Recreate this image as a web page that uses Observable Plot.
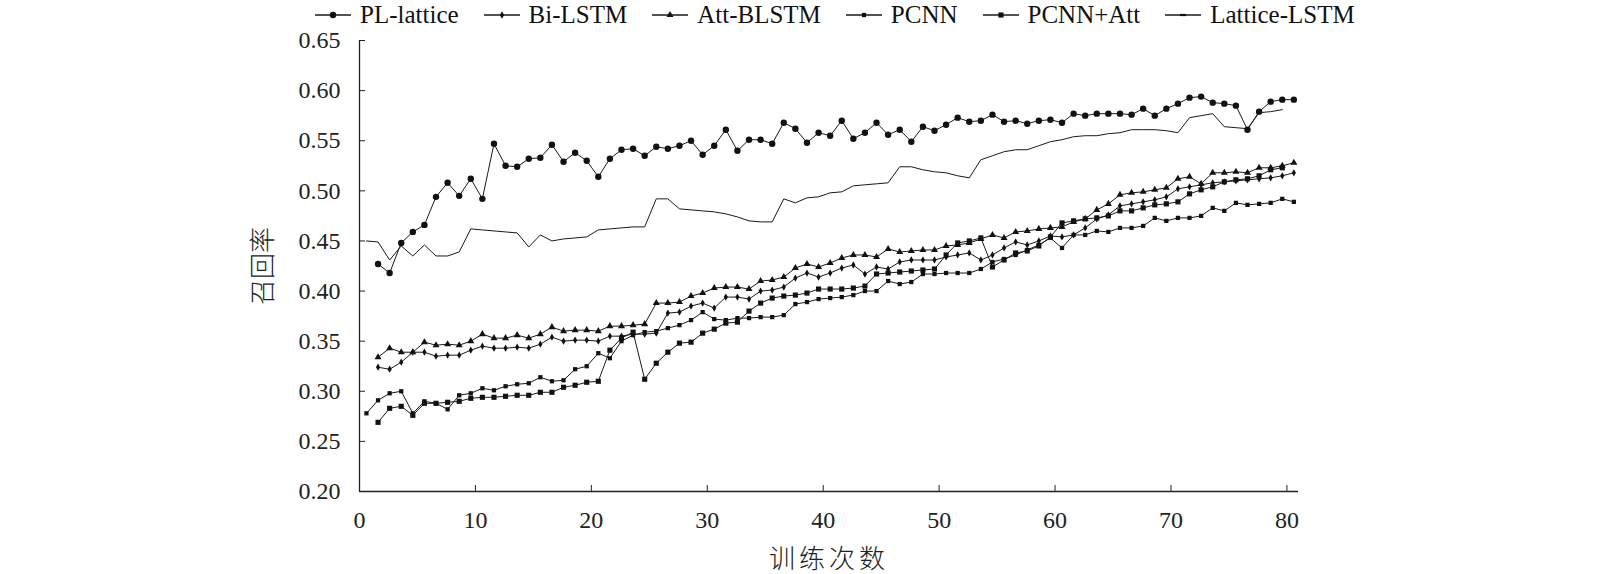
<!DOCTYPE html>
<html>
<head>
<meta charset="utf-8">
<script src="https://cdn.jsdelivr.net/npm/d3@7"></script>
<script src="https://cdn.jsdelivr.net/npm/@observablehq/plot@0.6"></script>
<style>
  html, body { margin: 0; padding: 0; background: #fff; overflow: hidden; }
  body { width: 1600px; height: 574px; font-family: "Liberation Serif", "Times New Roman", Times, "DejaVu Serif", serif; }
  #legend { box-sizing: border-box; height: 26px; padding-top: 4px; display: flex; align-items: center; padding-left: 315px; font-size: 25px; line-height: 22px; color: #111; white-space: nowrap; }
  #legend .item { display: flex; align-items: center; margin-right: 25px; }
  #legend svg { margin-right: 9px; }
  #chart svg { display: block; max-width: none !important; }
  g[aria-label="x-axis label"] text, g[aria-label="y-axis label"] text { font-size: 26px; font-family: "Noto Sans CJK SC", sans-serif; font-weight: 300; }
  g[aria-label="x-axis label"] text { letter-spacing: 4px; }
</style>
</head>
<body>
<div id="legend"></div>
<div id="chart"></div>
<script>
// ---- data (index k = 0..80, null = no point) ----
const epochs = d3.range(0, 81);
const xShift = 0.6; // points sit 0.6 units right of the integer epoch in the original
const xTicks = [0, 10, 20, 30, 40, 50, 60, 70, 80];
const yTicks = [0.20, 0.25, 0.30, 0.35, 0.40, 0.45, 0.50, 0.55, 0.60, 0.65];
const seriesNames = ["PL-lattice", "Bi-LSTM", "Att-BLSTM", "PCNN", "PCNN+Att", "Lattice-LSTM"];

const plLattice = [null,
  0.427, 0.418, 0.448, 0.459, 0.466, 0.494, 0.508, 0.495, 0.512, 0.492,
  0.547, 0.525, 0.524, 0.532, 0.533, 0.546, 0.529, 0.538, 0.530, 0.514,
  0.532, 0.541, 0.542, 0.535, 0.544, 0.542, 0.545, 0.550, 0.536, 0.545,
  0.561, 0.540, 0.551, 0.551, 0.547, 0.568, 0.562, 0.548, 0.558, 0.555,
  0.570, 0.552, 0.558, 0.568, 0.556, 0.561, 0.549, 0.564, 0.560, 0.566,
  0.573, 0.569, 0.570, 0.576, 0.569, 0.570, 0.567, 0.570, 0.571, 0.568,
  0.577, 0.575, 0.577, 0.577, 0.577, 0.576, 0.582, 0.575, 0.582, 0.587,
  0.593, 0.594, 0.588, 0.587, 0.585, 0.561, 0.579, 0.589, 0.591, 0.591];

const biLSTM = [null,
  0.324, 0.322, 0.329, 0.339, 0.339, 0.335, 0.336, 0.336, 0.341, 0.345,
  0.343, 0.343, 0.344, 0.343, 0.347, 0.354, 0.350, 0.351, 0.351, 0.350,
  0.355, 0.355, 0.357, 0.357, 0.358, 0.378, 0.379, 0.385, 0.388, 0.383,
  0.394, 0.394, 0.392, 0.400, 0.401, 0.404, 0.413, 0.418, 0.414, 0.418,
  0.423, 0.426, 0.417, 0.424, 0.422, 0.429, 0.431, 0.431, 0.431, 0.434,
  0.436, 0.438, 0.431, 0.436, 0.443, 0.449, 0.446, 0.450, 0.455, 0.454,
  0.456, 0.463, 0.472, 0.476, 0.485, 0.487, 0.489, 0.491, 0.494, 0.502,
  0.504, 0.506, 0.508, 0.509, 0.510, 0.511, 0.512, 0.513, 0.515, 0.518];

const attBLSTM = [null,
  0.334, 0.343, 0.339, 0.339, 0.349, 0.346, 0.347, 0.346, 0.350, 0.357,
  0.353, 0.353, 0.356, 0.353, 0.357, 0.364, 0.360, 0.361, 0.361, 0.360,
  0.365, 0.365, 0.366, 0.367, 0.388, 0.388, 0.389, 0.395, 0.398, 0.403,
  0.404, 0.404, 0.402, 0.410, 0.411, 0.414, 0.423, 0.427, 0.424, 0.428,
  0.433, 0.436, 0.436, 0.434, 0.442, 0.439, 0.440, 0.441, 0.441, 0.445,
  0.446, 0.448, 0.452, 0.456, 0.453, 0.459, 0.460, 0.462, 0.463, 0.464,
  0.469, 0.472, 0.481, 0.487, 0.496, 0.498, 0.499, 0.501, 0.503, 0.512,
  0.514, 0.507, 0.518, 0.518, 0.519, 0.518, 0.523, 0.523, 0.525, 0.528];

const pcnn = [0.278,
  0.291, 0.298, 0.300, 0.278, 0.290, 0.288, 0.282, 0.296, 0.298, 0.303,
  0.301, 0.305, 0.307, 0.308, 0.314, 0.310, 0.311, 0.322, 0.325, 0.338,
  0.333, 0.350, 0.356, 0.359, 0.360, 0.363, 0.366, 0.371, 0.379, 0.372,
  0.371, 0.373, 0.373, 0.374, 0.374, 0.376, 0.387, 0.389, 0.392, 0.393,
  0.394, 0.396, 0.400, 0.400, 0.410, 0.407, 0.409, 0.417, 0.417, 0.418,
  0.418, 0.418, 0.422, 0.429, 0.432, 0.436, 0.441, 0.446, 0.453, 0.443,
  0.456, 0.456, 0.460, 0.459, 0.463, 0.463, 0.465, 0.473, 0.470, 0.473,
  0.473, 0.475, 0.483, 0.480, 0.488, 0.486, 0.487, 0.488, 0.492, 0.489];

const pcnnAtt = [null,
  0.269, 0.283, 0.285, 0.276, 0.288, 0.288, 0.289, 0.290, 0.293, 0.294,
  0.294, 0.295, 0.296, 0.296, 0.299, 0.299, 0.304, 0.306, 0.309, 0.310,
  0.341, 0.353, 0.359, 0.312, 0.328, 0.339, 0.348, 0.349, 0.358, 0.362,
  0.368, 0.369, 0.380, 0.388, 0.393, 0.395, 0.396, 0.398, 0.402, 0.402,
  0.402, 0.403, 0.405, 0.417, 0.418, 0.419, 0.420, 0.421, 0.422, 0.436,
  0.448, 0.450, 0.453, 0.424, 0.431, 0.438, 0.440, 0.445, 0.454, 0.468,
  0.470, 0.472, 0.473, 0.475, 0.480, 0.480, 0.483, 0.486, 0.487, 0.489,
  0.497, 0.501, 0.504, 0.509, 0.511, 0.512, 0.515, 0.521, 0.523, null];

const latticeLSTM = [0.450,
  0.449, 0.431, 0.445, 0.435, 0.446, 0.435, 0.435, 0.439, 0.462, 0.461,
  0.460, 0.459, 0.458, 0.444, 0.456, 0.450, 0.452, 0.453, 0.454, 0.461,
  0.462, 0.463, 0.464, 0.464, 0.492, 0.492, 0.482, 0.481, 0.480, 0.479,
  0.477, 0.474, 0.470, 0.469, 0.469, 0.492, 0.488, 0.493, 0.494, 0.498,
  0.499, 0.505, 0.506, 0.507, 0.508, 0.524, 0.524, 0.521, 0.519, 0.518,
  0.515, 0.513, 0.531, 0.535, 0.539, 0.541, 0.541, 0.545, 0.549, 0.551,
  0.554, 0.555, 0.555, 0.557, 0.558, 0.561, 0.561, 0.561, 0.560, 0.558,
  0.573, 0.575, 0.577, 0.564, 0.563, 0.562, 0.578, 0.579, 0.581, null];

// ---- build table ----
const seriesDefs = [
  {name: seriesNames[0], values: plLattice,   symbol: "circle",   r: 3.2},
  {name: seriesNames[1], values: biLSTM,      symbol: "diamond",  r: 2.2},
  {name: seriesNames[2], values: attBLSTM,    symbol: "triangle", r: 2.6},
  {name: seriesNames[3], values: pcnn,        symbol: "square",   r: 2.4},
  {name: seriesNames[4], values: pcnnAtt,     symbol: "square",   r: 2.9},
  {name: seriesNames[5], values: latticeLSTM, symbol: null,       r: 0}
];
const rows = seriesDefs.flatMap(s =>
  s.values.map((v, k) => ({name: s.name, x: epochs[k] + xShift, y: v})).filter(d => d.y != null)
);

const serif = "'Liberation Serif', 'Times New Roman', Times, 'DejaVu Serif', serif";
const marks = [
  Plot.ruleY([0.20], {x1: 0, x2: 81, stroke: "#222", strokeWidth: 1.3}),
  Plot.ruleX([0], {y1: 0.20, y2: 0.65, stroke: "#222", strokeWidth: 1.3}),
  Plot.axisX(xTicks, {tickSize: -6, tickFormat: () => "", stroke: "#222", label: null}),
  Plot.axisX(xTicks, {tickSize: 0, tickPadding: 19, tickFormat: d => String(d), fill: "#222",
    label: "训练次数", labelAnchor: "center", labelOffset: 76, labelArrow: "none"}),
  Plot.axisY(yTicks, {tickSize: -6, tickFormat: () => "", stroke: "#222", label: null}),
  Plot.axisY(yTicks, {tickSize: 0, tickPadding: 19, tickFormat: d3.format(".2f"), fill: "#222",
    label: "召回率", labelAnchor: "center", labelOffset: 106, labelArrow: "none"}),
  Plot.line(rows, {x: "x", y: "y", z: "name", stroke: "#1a1a1a", strokeWidth: 1})
];
for (const s of seriesDefs) {
  if (!s.symbol) continue;
  marks.push(Plot.dot(rows.filter(d => d.name === s.name),
    {x: "x", y: "y", symbol: s.symbol, r: s.r, fill: "#111", stroke: "none"}));
}

const chart = Plot.plot({
  width: 1600,
  height: 548,
  marginLeft: 359,
  marginRight: 302,
  marginTop: 14,
  marginBottom: 83,
  style: {fontFamily: serif, fontSize: "24px", color: "#222", background: "#fff", maxWidth: "none"},
  x: {domain: [0, 81], axis: null},
  y: {domain: [0.20, 0.65], axis: null},
  marks
});
document.getElementById("chart").appendChild(chart);

// ---- legend (HTML above the SVG) ----
const legend = d3.select("#legend");
const shapes = {circle: d3.symbolCircle, diamond: d3.symbolDiamond, triangle: d3.symbolTriangle, square: d3.symbolSquare};
for (const s of seriesDefs) {
  const item = legend.append("div").attr("class", "item");
  const svg = item.append("svg").attr("width", 36).attr("height", 12);
  svg.append("line").attr("x1", 0).attr("x2", 36).attr("y1", 6).attr("y2", 6).attr("stroke", "#1a1a1a").attr("stroke-width", 1.3);
  if (s.symbol) {
    const area = Math.PI * s.r * s.r;
    svg.append("path").attr("transform", "translate(18,6)").attr("d", d3.symbol(shapes[s.symbol], area)()).attr("fill", "#111");
  } else {
    svg.append("line").attr("x1", 15).attr("x2", 21).attr("y1", 6).attr("y2", 6).attr("stroke", "#111").attr("stroke-width", 2.2);
  }
  item.append("span").text(s.name);
}
</script>
</body>
</html>
